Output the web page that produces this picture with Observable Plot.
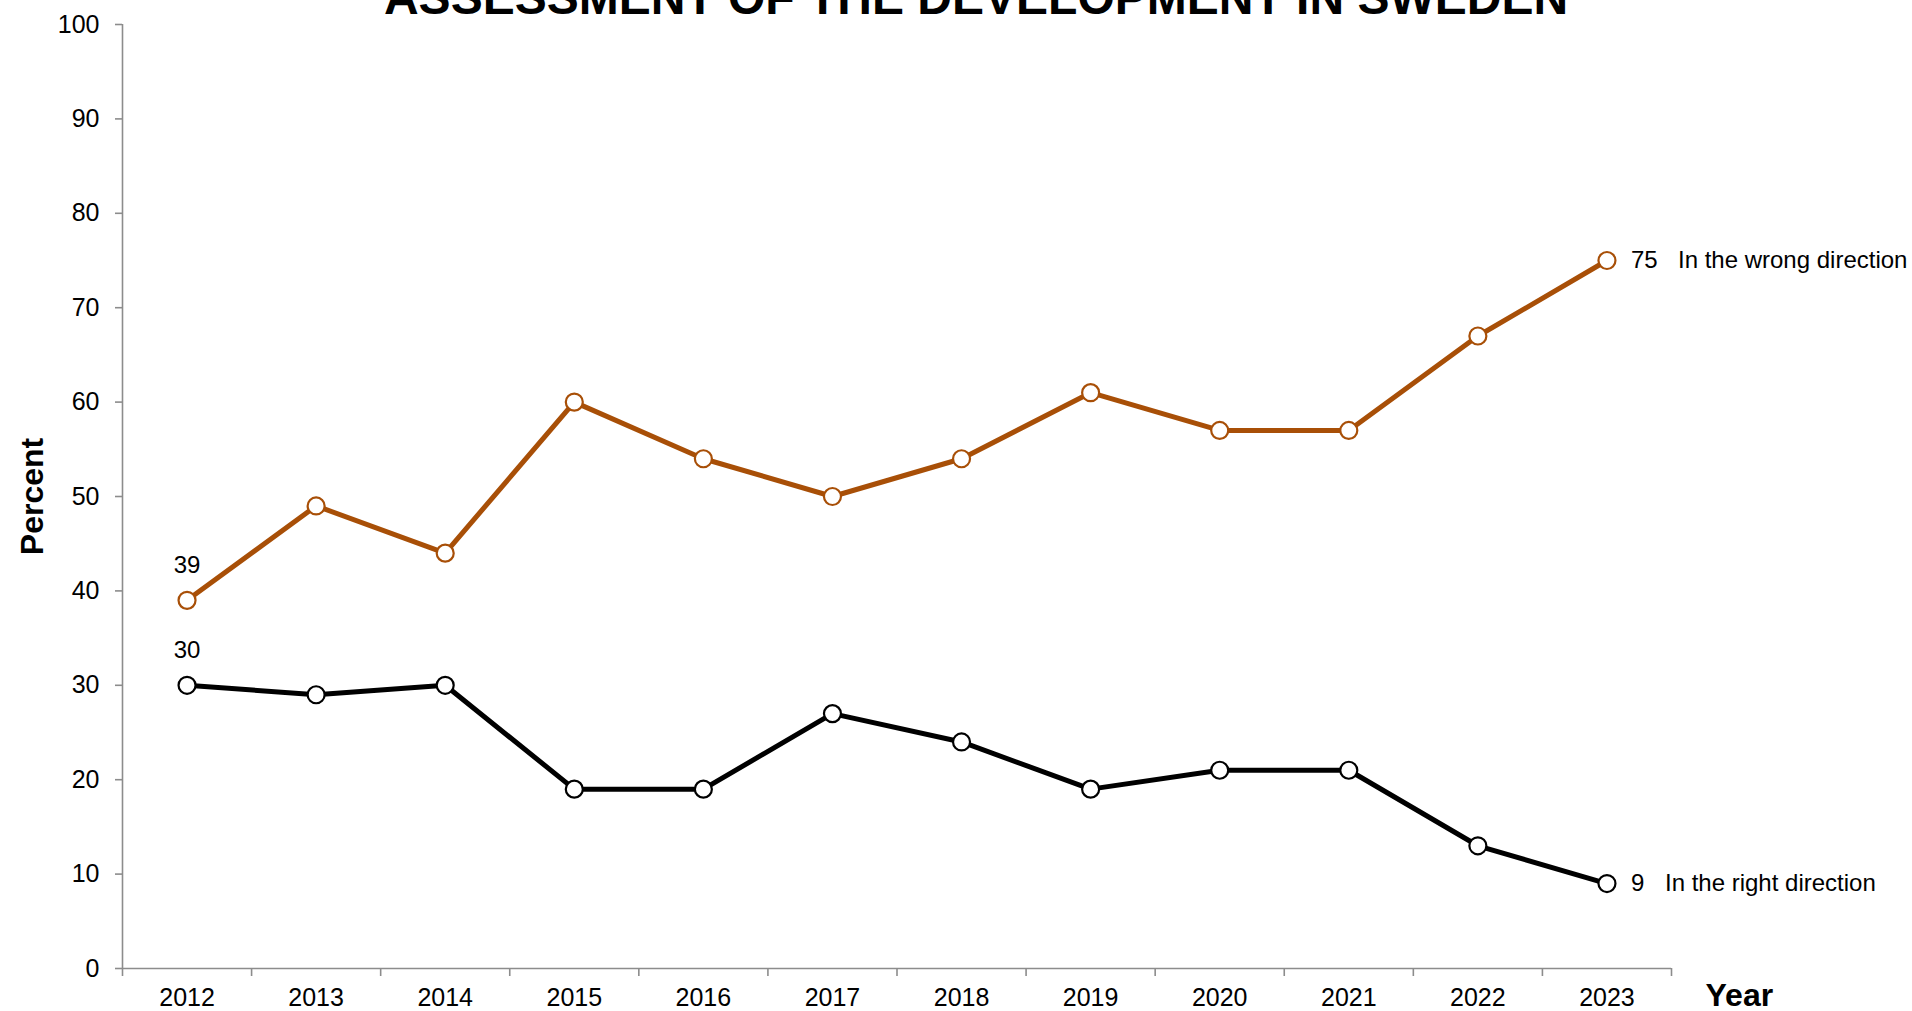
<!DOCTYPE html>
<html>
<head>
<meta charset="utf-8">
<script src="https://cdn.jsdelivr.net/npm/d3@7"></script>
<script src="https://cdn.jsdelivr.net/npm/@observablehq/plot@0.6"></script>
<style>
  html, body { margin: 0; padding: 0; background: #fff; overflow: hidden; }
  #chart svg { display: block; }
</style>
</head>
<body>
<div id="chart"></div>
<script>
const title = "ASSESSMENT OF THE DEVELOPMENT IN SWEDEN";
const years = [2012, 2013, 2014, 2015, 2016, 2017, 2018, 2019, 2020, 2021, 2022, 2023];
const wrongDirection = [39, 49, 44, 60, 54, 50, 54, 61, 57, 57, 67, 75];
const rightDirection = [30, 29, 30, 19, 19, 27, 24, 19, 21, 21, 13, 9];
const seriesNames = ["In the wrong direction", "In the right direction"];
const seriesColors = ["#A84F07", "#000000"];
const yTicks = [0, 10, 20, 30, 40, 50, 60, 70, 80, 90, 100];
const xLabel = "Year";
const yLabel = "Percent";

const rows = [];
years.forEach((yr, i) => rows.push({year: yr, value: wrongDirection[i], series: seriesNames[0]}));
years.forEach((yr, i) => rows.push({year: yr, value: rightDirection[i], series: seriesNames[1]}));

const bounds = d3.range(years[0] - 0.5, years[years.length - 1] + 1, 1);
const firstRows = rows.filter(d => d.year === years[0]);
const lastRows = rows.filter(d => d.year === years[years.length - 1]);
const lastWrong = lastRows.filter(d => d.series === seriesNames[0]);
const lastRight = lastRows.filter(d => d.series === seriesNames[1]);

const font = "'Liberation Sans', Arial, Helvetica, sans-serif";
const axisGray = "#8c8c8c";

const chart = Plot.plot({
  width: 1912,
  height: 1011,
  marginLeft: 122,
  marginRight: 241,
  marginTop: 24,
  marginBottom: 43,
  style: {fontFamily: font, background: "#fff", color: "#000"},
  x: {domain: [bounds[0], bounds[bounds.length - 1]], axis: null},
  y: {domain: [0, 100], axis: null},
  color: {domain: seriesNames, range: seriesColors},
  marks: [
    Plot.ruleX([bounds[0]], {y1: 0, y2: 100, stroke: axisGray, strokeWidth: 1.6}),
    Plot.ruleY([0], {stroke: axisGray, strokeWidth: 1.6}),
    Plot.axisY({ticks: yTicks, tickSize: 7, tickPadding: 16, fontSize: 25, stroke: axisGray, strokeWidth: 1.6, fill: "#000", label: null}),
    Plot.axisX({ticks: bounds, tickSize: 8, tickFormat: () => "", stroke: axisGray, strokeWidth: 1.6, label: null}),
    Plot.axisX({ticks: years, tickSize: 0, tickPadding: 20, fontSize: 25, fill: "#000", tickFormat: d => String(d), label: null}),
    Plot.line(rows, {x: "year", y: "value", z: "series", stroke: "series", strokeWidth: 5, strokeLinejoin: "round"}),
    Plot.dot(rows, {x: "year", y: "value", r: 8.5, fill: "white", stroke: "series", strokeWidth: 2.2}),
    Plot.text(firstRows, {x: "year", y: "value", text: d => String(d.value), dy: -27, lineAnchor: "bottom", fontSize: 24, fill: "#000"}),
    Plot.text(lastRows, {x: "year", y: "value", text: d => String(d.value), dx: 24, textAnchor: "start", fontSize: 24, fill: "#000"}),
    Plot.text(lastWrong, {x: "year", y: "value", text: "series", dx: 71, textAnchor: "start", fontSize: 24, fill: "#000"}),
    Plot.text(lastRight, {x: "year", y: "value", text: "series", dx: 58, textAnchor: "start", fontSize: 24, fill: "#000"}),
    Plot.text([xLabel], {frameAnchor: "bottom-right", text: d => d, dx: 34, dy: 37, lineAnchor: "bottom", textAnchor: "start", fontSize: 32, fontWeight: "bold", fill: "#000"}),
    Plot.text([yLabel], {frameAnchor: "left", text: d => d, rotate: -90, dx: -80, lineAnchor: "bottom", textAnchor: "middle", fontSize: 32, fontWeight: "bold", fill: "#000"}),
    Plot.text([title], {frameAnchor: "top", text: d => d, dx: 79, dy: -11, lineAnchor: "bottom", fontSize: 48, fontWeight: "bold", fill: "#000"})
  ]
});
document.getElementById("chart").appendChild(chart);
</script>
</body>
</html>
